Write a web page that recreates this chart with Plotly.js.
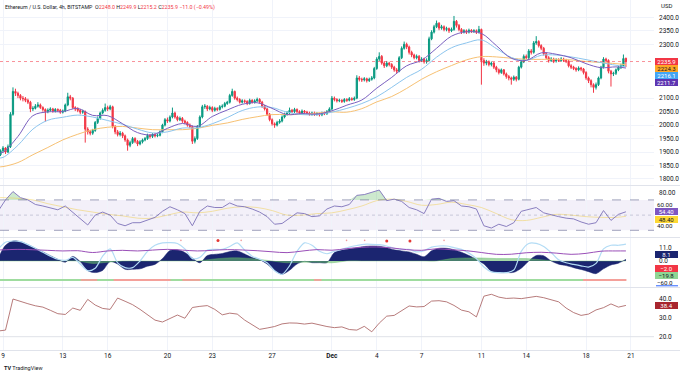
<!DOCTYPE html>
<html>
<head>
<meta charset="utf-8">
<script src="https://cdn.plot.ly/plotly-3.0.1.min.js"></script>
<style>
html,body{margin:0;padding:0;background:#ffffff;overflow:hidden;}
#chart{width:680px;height:371px;}
</style>
</head>
<body>
<div id="chart"></div>
<script>
// ---------- DATA (4h candles, ETH/USD Bitstamp; x in days from Nov 1, 00:00) ----------
const startDay = 8 + 2/3;        // first candle: Nov 8, 16:00
const candleHours = 4;

const open = [
1900,1890,1905,1915,1900,1920, 2040,2125,2118,2110,2100,2098, 2092,2085,2060,2062,2070,2075,
2065,2058,2050,2055,2060,2052, 2058,2055,2048,2052,2075,2105, 2100,2065,2060,2055,2048,2050,
1985,1975,1970,1980,2010,2025, 2045,2055,2065,2060,2068,1995, 1975,1965,1970,1960,1945,1925,
1935,1950,1940,1930,1938,1945, 1950,1962,1958,1965,1960,1962, 1975,2000,2020,2015,2030,2045,
2030,2020,2025,2015,2010,2000, 1995,1940,1950,1995,2030,2068, 2070,2060,2065,2055,2062,2058,
2068,2070,2080,2085,2110,2125, 2100,2095,2085,2090,2088,2080, 2092,2085,2090,2095,2085,2070,
2060,2040,2020,2005,2000,2010, 2015,2030,2040,2045,2055,2050, 2058,2050,2045,2052,2048,2045,
2040,2045,2040,2042,2038,2045, 2042,2050,2060,2100,2095,2090, 2092,2088,2095,2092,2098,2095,
2100,2175,2170,2168,2172,2165, 2170,2175,2210,2245,2255,2230, 2220,2230,2225,2215,2205,2200,
2250,2285,2300,2290,2270,2260, 2250,2255,2240,2245,2235,2240, 2320,2345,2365,2378,2360,2365,
2355,2358,2350,2355,2385,2370, 2355,2345,2350,2345,2352,2348, 2350,2345,2355,2240,2230,2235,
2225,2230,2215,2205,2195,2205, 2190,2180,2175,2170,2178,2170, 2215,2235,2255,2250,2275,2270,
2305,2310,2295,2285,2265,2250, 2240,2245,2238,2242,2240,2245, 2240,2238,2220,2215,2210,2205,
2212,2208,2195,2175,2165,2150, 2140,2150,2175,2215,2245,2240, 2200,2190,2192,2205,2215,2220,
2248.0];
const close = [
1890,1905,1915,1900,1920,2040, 2125,2118,2110,2100,2098,2092, 2085,2060,2062,2070,2075,2065,
2058,2050,2055,2060,2052,2058, 2055,2048,2052,2075,2105,2100, 2065,2060,2055,2048,2050,1985,
1975,1970,1980,2010,2025,2045, 2055,2065,2060,2068,1995,1975, 1965,1970,1960,1945,1925,1935,
1950,1940,1930,1938,1945,1950, 1962,1958,1965,1960,1962,1975, 2000,2020,2015,2030,2045,2030,
2020,2025,2015,2010,2000,1995, 1940,1950,1995,2030,2068,2070, 2060,2065,2055,2062,2058,2068,
2070,2080,2085,2110,2125,2100, 2095,2085,2090,2088,2080,2092, 2085,2090,2095,2085,2070,2060,
2040,2020,2005,2000,2010,2015, 2030,2040,2045,2055,2050,2058, 2050,2045,2052,2048,2045,2040,
2045,2040,2042,2038,2045,2042, 2050,2060,2100,2095,2090,2092, 2088,2095,2092,2098,2095,2100,
2175,2170,2168,2172,2165,2170, 2175,2210,2245,2255,2230,2220, 2230,2225,2215,2205,2200,2250,
2285,2300,2290,2270,2260,2250, 2255,2240,2245,2235,2240,2320, 2345,2365,2378,2360,2365,2355,
2358,2350,2355,2385,2370,2355, 2345,2350,2345,2352,2348,2350, 2345,2355,2240,2230,2235,2225,
2230,2215,2205,2195,2205,2190, 2180,2175,2170,2178,2170,2215, 2235,2255,2250,2275,2270,2305,
2310,2295,2285,2265,2250,2240, 2245,2238,2242,2240,2245,2240, 2238,2220,2215,2210,2205,2212,
2208,2195,2175,2165,2150,2140, 2150,2175,2215,2245,2240,2200, 2190,2192,2205,2215,2220,2246.9,
2235.9];
const high = [
1908,1910,1922,1918,1928,2048, 2140,2135,2124,2115,2108,2104, 2098,2090,2070,2078,2085,2080,
2070,2062,2062,2066,2064,2063, 2062,2060,2058,2080,2120,2112, 2104,2070,2066,2060,2057,2054,
1992,1982,1986,2015,2032,2050, 2062,2080,2072,2075,2072,2000, 1982,1978,1975,1965,1950,1942,
1956,1955,1945,1944,1950,1956, 1968,1966,1970,1970,1968,1980, 2005,2026,2028,2036,2065,2050,
2035,2032,2030,2020,2014,2006, 1998,1958,2000,2036,2075,2078, 2074,2072,2070,2068,2066,2074,
2077,2086,2090,2116,2135,2128, 2106,2100,2096,2095,2092,2098, 2096,2096,2102,2100,2090,2075,
2064,2045,2025,2010,2016,2022, 2036,2046,2052,2065,2060,2064, 2062,2055,2058,2056,2053,2050,
2050,2050,2048,2046,2050,2050, 2056,2066,2108,2106,2100,2098, 2096,2100,2100,2104,2103,2106,
2185,2182,2176,2178,2176,2176, 2182,2216,2252,2270,2260,2236, 2238,2235,2230,2220,2212,2256,
2292,2310,2306,2295,2276,2265, 2262,2260,2252,2250,2248,2328, 2352,2372,2388,2382,2372,2370,
2365,2362,2362,2405,2390,2375, 2360,2356,2355,2358,2356,2356, 2355,2368,2358,2248,2242,2240,
2236,2234,2220,2210,2210,2208, 2195,2186,2180,2184,2182,2220, 2240,2262,2262,2282,2282,2312,
2330,2315,2300,2290,2270,2256, 2252,2250,2248,2248,2252,2250, 2246,2242,2226,2220,2215,2218,
2216,2212,2200,2180,2170,2155, 2158,2180,2220,2252,2250,2244, 2205,2198,2210,2220,2228,2262,
2249.9];
const low = [
1882,1885,1898,1893,1896,1915, 2035,2108,2100,2092,2088,2085, 2078,2048,2052,2058,2065,2060,
2050,2013,2044,2050,2046,2047, 2049,2042,2043,2048,2070,2092, 2060,2052,2048,2040,2042,1935,
1965,1962,1964,1975,2004,2020, 2040,2050,2052,2055,1988,1966, 1958,1958,1952,1938,1905,1918,
1930,1933,1922,1925,1932,1940, 1945,1950,1952,1954,1955,1958, 1970,1995,2008,2010,2025,2024,
2014,2015,2008,2003,1994,1988, 1930,1932,1945,1990,2025,2060, 2052,2055,2048,2050,2052,2054,
2062,2066,2075,2080,2105,2094, 2088,2080,2080,2082,2074,2076, 2080,2080,2086,2080,2064,2054,
2034,2014,1998,1990,1995,2005, 2010,2025,2035,2040,2044,2045, 2044,2040,2040,2042,2040,2035,
2035,2034,2035,2032,2033,2037, 2038,2045,2055,2088,2084,2085, 2082,2083,2086,2088,2090,2090,
2096,2162,2160,2162,2158,2160, 2165,2170,2205,2238,2224,2212, 2215,2218,2208,2198,2192,2196,
2245,2280,2282,2262,2252,2244, 2244,2232,2234,2228,2228,2236, 2315,2340,2360,2352,2354,2348,
2348,2342,2345,2350,2362,2348, 2338,2340,2338,2340,2342,2342, 2338,2340,2150,2220,2222,2218,
2218,2208,2196,2188,2190,2184, 2172,2166,2150,2164,2162,2166, 2210,2230,2244,2245,2262,2265,
2298,2288,2278,2258,2244,2232, 2234,2230,2232,2234,2235,2234, 2230,2214,2208,2204,2198,2200,
2200,2188,2168,2156,2140,2120, 2132,2145,2170,2210,2232,2192, 2143,2182,2186,2200,2208,2215,
2215.2];

// moving averages, one reading per day (first candle, Nov 9 .. Dec 20, last candle)
const maFast = [1897,1899,1958,2035,2049,2050,2062,2036,2035,2005,1972,1964,1988,2006,1995,2032,2056,2077,2083,2062,2039,2043,2041,2053,2074,2093,2137,2177,2220,2241,2285,2330,2346,2340,2295,2248,2240,2268,2263,2250,2228,2213,2216,2211.7];
const maMid  = [1878,1880,1925,1985,2018,2029,2037,2030,2017,2003,1985,1971,1975,1989,1990,2005,2028,2054,2067,2065,2048,2039,2039,2048,2062,2080,2105,2140,2177,2207,2252,2287,2305,2316,2284,2251,2240,2259,2260,2253,2243,2232,2222,2216.1];
const maSlow = [1845,1846,1861,1890,1917,1945,1966,1983,1992,1995,1989,1983,1983,1983,1988,1999,2008,2021,2031,2039,2039,2040,2045,2049,2048,2061,2086,2106,2136,2170,2198,2221,2242,2254,2253,2248,2244,2244,2244,2242,2236,2232,2228,2224.3];

// RSI, one reading per half day
const rsi = [55,70,81,73,70,64,62,59,57,62,54,45,37,50,54,50,39,36,40,40,44,47,55,61,57,52,36,55,62,60,60,66,62,61,58,54,48,38,39,46,53,52,48,49,58,62,61,64,76,77,80,83,69,71,68,60,57,52,71,72,68,69,62,61,58,36,33,38,35,40,55,58,60,53,50,48,46,45,41,38,40,56,43,51,54.4];
// RSI moving average, one reading per day
const rsiMa = [73,73,72,70,65,61,57,54,51,49,46,46,50,54,53,55,59,61,60,56,50,50,52,53,57,62,69,71,68,63,64,67,64,60,52,44,43,47,51,50,48,47,47,48.4];

// oscillator panel, half-day readings
const oscWave = [2,13,16.5,16,13.5,10.5,7.5,4.4,1.4,-1,3.8,-0.5,-8,-9.6,-7.8,-0.5,-2.5,-6.9,-6.9,-6.5,-4.3,-2.8,2,8.6,9.2,7,2.5,-1.5,4.5,5.5,6.2,7.8,8.3,5.8,2.8,1.1,-2.5,-7.8,-11,-7.7,-2.5,-0.3,-1.4,-1.4,-1.4,7,9,10,11,12,12.4,12.2,11,9.2,8.3,7.5,5.5,3.5,8.5,10.5,10.5,9.3,7.2,4.5,1.3,-2.5,-8.5,-9.6,-9.6,-9.4,-6,0,4.5,4.3,0,-2.6,-3.8,-5.5,-7,-8.8,-10.5,-6.5,-3.3,-1.8,1.4];
const oscFast = [9.6,15.5,16.5,16,13.5,10.5,7.2,4,1.4,0.5,3,-2.5,-8,-6,4,10,-1.5,-5.5,-5.5,0,8,13,15,15.2,14.5,10,2,3,9,9.6,9.6,12,15,9,4,1.5,-1.5,-8,-11,-4,8,15,13,8,6,8,9.6,11.5,12.8,13.8,13.8,13.5,12.4,10.5,9.6,9.6,7.5,8.5,11.5,12.4,12.4,11,9.6,6.5,2,-5,-9,-9.6,-9.6,-7.5,8,14.5,14.5,12,7,1,-1.5,-2.8,-4,-5,-2,10,13,13,14];
// oscillator panel, daily readings
const oscSignal = [9.1,9.2,9.6,9.3,8.8,8.3,8.5,7,8.3,8.8,8.3,9,9.6,9,8.3,8.8,9.4,9.1,8.5,7.6,6.9,8.2,9.4,8.9,10.2,11.3,11.6,10.8,9.4,8.8,10.1,9.3,8.5,7,5.5,5.6,6.8,7.2,6.5,5.5,6.3,8.1,8.3,8.3];
const moneyFlow = [0,0,0,0,0,0,0,-2,-1,0,0,0,0,0,0,1.5,2.5,2.5,1.5,0,-1.5,-1,-1,-1.5,0,0,0,0,0,0,0,2,2.5,2.5,2,2,2,1,0,0,0,0,0,0];
const dotBigDays = [23.38,34.67,36.22], dotBigVals = [17,16.5,16.5];
const dotSmallDays = [20.9,24.93,31.98,33.19,38.5], dotSmallVals = [17,17,17,17,17];
const bandLevel = -15.7;
const bandRedSegments = [[14.2,15.3],[16.4,20.2],[21.0,22.2],[29.8,30.3],[47.8,50.7]];

// lower panel line, half-day readings
const lowerLine = [23,23.5,40,38.6,37.5,36.4,35.7,34,32.2,31.8,35.2,34,39.8,36.8,35,34.5,40.5,38.8,37,34.5,31.5,28.8,27.8,29.5,31.5,29.8,35.5,36.1,36.5,34.5,31.6,32.5,32,28.8,26.5,23.9,24.6,25.4,26.8,27.3,27.2,26.7,27.2,26.1,25.4,24.8,25.2,23.8,23.5,25.5,22.6,27.2,30.9,31.3,34,36.3,35.8,36,38.9,39.1,38.5,36.6,34.1,33.2,30.5,41.5,42.5,41,40.3,40.5,40.2,41,41.4,40.7,39.4,38.5,35.2,32.8,31.3,32,34.2,35.4,37.4,35.7,36.6];

const dateTickDays = [9,13,16,20,23,27,31,34,37,41,44,48,51];
const dateTickText = ['9','13','16','20','23','27','<b>Dec</b>','4','7','11','14','18','21'];
const priceTicks = [1800,1850,1900,1950,2000,2050,2100,2300,2350,2400];
const lastPrice = 2235.9;

// ---------- time coordinates ----------
const candleX = close.map((_, i) => startDay + i * candleHours / 24);
const halfDayX = rsi.map((_, k) => startDay + k * 0.5);
const dailyX = [startDay];
for (let d = 9; d <= 50; d++) dailyX.push(d);
dailyX.push(startDay + 42);

const redX = [], redY = [];
bandRedSegments.forEach(s => { redX.push(s[0], s[1], null); redY.push(bandLevel, bandLevel, null); });

const UP = '#089981', DN = '#f23645';
const FONT = 'Roboto, "Liberation Sans", sans-serif';

const traces = [
  {type:'candlestick', x:candleX, open:open, high:high, low:low, close:close,
   xaxis:'x', yaxis:'y', whiskerwidth:0, hoverinfo:'skip',
   increasing:{line:{color:UP,width:1}, fillcolor:UP},
   decreasing:{line:{color:DN,width:1}, fillcolor:DN}},
  {type:'scatter', mode:'lines', x:dailyX, y:maSlow, yaxis:'y', line:{color:'#f7c173', width:1, shape:'spline'}, hoverinfo:'skip'},
  {type:'scatter', mode:'lines', x:dailyX, y:maMid, yaxis:'y', line:{color:'#8cc5ee', width:1, shape:'spline'}, hoverinfo:'skip'},
  {type:'scatter', mode:'lines', x:dailyX, y:maFast, yaxis:'y', line:{color:'#7a5fbf', width:1, shape:'spline'}, hoverinfo:'skip'},

  // RSI panel
  {type:'scatter', mode:'lines', x:halfDayX, y:rsi.map(() => 70), yaxis:'y2', line:{width:0}, hoverinfo:'skip'},
  {type:'scatter', mode:'lines', x:halfDayX, y:rsi.map(v => Math.max(v, 70)), yaxis:'y2', fill:'tonexty',
   fillcolor:'rgba(76,175,80,0.28)', line:{width:0}, hoverinfo:'skip'},
  {type:'scatter', mode:'lines', x:dailyX, y:rsiMa, yaxis:'y2', line:{color:'rgba(240,205,80,0.5)', width:1, shape:'spline'}, hoverinfo:'skip'},
  {type:'scatter', mode:'lines', x:halfDayX, y:rsi, yaxis:'y2', line:{color:'#8a7fc0', width:1}, hoverinfo:'skip'},

  // oscillator panel
  {type:'scatter', mode:'lines', x:halfDayX, y:oscWave, yaxis:'y3', fill:'tozeroy', fillcolor:'#1b2570',
   line:{color:'#1b2570', width:0.5, shape:'spline', smoothing:0.8}, hoverinfo:'skip'},
  {type:'scatter', mode:'lines', x:dailyX, y:moneyFlow, yaxis:'y3', fill:'tozeroy', fillcolor:'rgba(102,187,106,0.6)',
   line:{color:'rgba(102,187,106,0.8)', width:0.5, shape:'spline'}, hoverinfo:'skip'},
  {type:'scatter', mode:'lines', x:halfDayX, y:oscFast, yaxis:'y3', line:{color:'#b3dcf5', width:1.2, shape:'spline', smoothing:0.8}, hoverinfo:'skip'},
  {type:'scatter', mode:'lines', x:dailyX, y:oscSignal, yaxis:'y3', line:{color:'#9a4fb8', width:1, shape:'spline'}, hoverinfo:'skip'},
  {type:'scatter', mode:'markers', x:dotBigDays, y:dotBigVals, yaxis:'y3', marker:{color:'#e53935', size:3}, hoverinfo:'skip'},
  {type:'scatter', mode:'markers', x:dotSmallDays, y:dotSmallVals, yaxis:'y3', marker:{color:'#ef9a9a', size:1.6}, hoverinfo:'skip'},
  {type:'scatter', mode:'lines', x:[startDay, startDay + 42], y:[bandLevel, bandLevel], yaxis:'y3', line:{color:'#9fdc9f', width:1.8}, hoverinfo:'skip'},
  {type:'scatter', mode:'lines', x:redX, y:redY, yaxis:'y3', line:{color:'#f4a09a', width:1.8}, connectgaps:false, hoverinfo:'skip'},

  // lower panel
  {type:'scatter', mode:'lines', x:halfDayX, y:lowerLine, yaxis:'y4', line:{color:'rgba(170,100,100,0.85)', width:1}, hoverinfo:'skip'}
];

// ---------- layout ----------
const H = 371;
const py = p => 1 - p / H;   // pixel row -> paper y
const tickFont = {family:FONT, size:6.5, color:'#131722'};
const yCommon = {side:'right', anchor:'x', zeroline:false, showline:false, ticks:'', ticklabelstandoff:4,
                 tickfont:tickFont, fixedrange:true};

function tag(text, yref, y, bg, fg, shift) {
  return {xref:'paper', x:1, xanchor:'left', xshift:1, yref:yref, y:y, yanchor:'middle', yshift:shift || 0,
          text:text, showarrow:false, bgcolor:bg, borderpad:0, borderwidth:0, width:23, height:6.5, align:'center',
          font:{family:FONT, size:6, color:fg}};
}
function scaleLabel(text, yref, y, shift) {
  return {xref:'paper', x:1, xanchor:'left', xshift:3, yref:yref, y:y, yanchor:'middle', yshift:shift || 0,
          text:text, showarrow:false, borderpad:0, borderwidth:0, font:{family:FONT, size:6.2, color:'#131722'}};
}

const sepLine = p => ({type:'line', xref:'paper', yref:'paper', x0:0, x1:680/654, y0:py(p), y1:py(p),
                       line:{color:'#e0e3eb', width:1}});

const layout = {
  width:680, height:371,
  margin:{l:0, r:26, t:0, b:0},
  paper_bgcolor:'#ffffff', plot_bgcolor:'#ffffff',
  showlegend:false,
  font:{family:FONT},
  xaxis:{type:'linear', range:[8.7993, 52.545], anchor:'y4', domain:[0,1],
         tickvals:dateTickDays, ticktext:dateTickText, ticks:'', tickfont:tickFont,
         showgrid:true, gridcolor:'#f0f3fa', gridwidth:1, zeroline:false, showline:false,
         rangeslider:{visible:false}, fixedrange:true},
  yaxis:Object.assign({}, yCommon, {domain:[py(185), 1], range:[1777.7, 2464.2],
         tickvals:priceTicks, tickformat:'.1f',
         showgrid:true, gridcolor:'#f0f3fa'}),
  yaxis2:Object.assign({}, yCommon, {domain:[py(237), py(186)], range:[21.2, 88.3],
         tickvals:[80], tickformat:'.2f', showgrid:false}),
  yaxis3:Object.assign({}, yCommon, {domain:[py(287), py(238)], range:[-21.5, 19.0],
         tickvals:[11,0], tickformat:'.1f', showgrid:false}),
  yaxis4:Object.assign({}, yCommon, {domain:[py(350), py(288)], range:[12.94, 45.84],
         tickvals:[40,30,20], tickformat:'.1f', showgrid:false}),
  shapes:[
    sepLine(185.5), sepLine(237.5), sepLine(287.5), sepLine(350.5),
    {type:'line', xref:'paper', yref:'y', x0:0, x1:1, y0:lastPrice, y1:lastPrice,
     line:{color:'rgba(242,54,69,0.55)', width:1, dash:'dot'}},
    {type:'rect', xref:'paper', yref:'y2', x0:0, x1:1, y0:30, y1:70, fillcolor:'rgba(126,87,194,0.09)',
     line:{width:0}, layer:'below'},
    {type:'line', xref:'paper', yref:'y2', x0:0, x1:1, y0:70, y1:70, line:{color:'rgba(120,123,160,0.7)', width:1, dash:'dash'}},
    {type:'line', xref:'paper', yref:'y2', x0:0, x1:1, y0:50, y1:50, line:{color:'rgba(120,123,160,0.35)', width:1, dash:'dot'}},
    {type:'line', xref:'paper', yref:'y2', x0:0, x1:1, y0:30, y1:30, line:{color:'rgba(120,123,160,0.7)', width:1, dash:'dash'}},
    {type:'line', xref:'paper', yref:'y4', x0:0, x1:1, y0:20, y1:20, line:{color:'#dfe2e8', width:1}},
    {type:'line', xref:'paper', yref:'paper', x0:656/654, x1:678/654, y0:py(285.8), y1:py(285.8), line:{color:'#2962ff', width:1}}
  ],
  annotations:[
    {xref:'paper', yref:'paper', x:0, xshift:3, y:1, yshift:-1.5, xanchor:'left', yanchor:'top', showarrow:false,
     font:{family:FONT, size:5.3, color:'#131722'},
     text:'Ethereum / U.S. Dollar, 4h, BITSTAMP  O<span style="color:#f23645">2248.0</span> H<span style="color:#f23645">2249.9</span> L<span style="color:#f23645">2215.2</span> C<span style="color:#f23645">2235.9</span> <span style="color:#f23645">−11.0 (−0.49%)</span>'},
    {xref:'paper', yref:'paper', x:1, xshift:5, y:py(5), xanchor:'left', yanchor:'middle', showarrow:false,
     text:'USD', font:{family:FONT, size:6, color:'#131722'}},
    {xref:'paper', yref:'paper', x:0, xshift:2, y:py(367.5), xanchor:'left', yanchor:'middle', showarrow:false,
     text:'<b>TV</b> TradingView', font:{family:FONT, size:5.5, color:'#131722'}},

    tag('2235.9', 'y', lastPrice, '#f23645', '#ffffff', 0),
    tag('2224.3', 'y', 2224.3, '#ffa726', '#131722', -3.9),
    tag('2216.1', 'y', 2216.1, '#42a5f5', '#ffffff', -8.6),
    tag('2211.7', 'y', 2211.7, '#5e35b1', '#ffffff', -14.5),

    scaleLabel('60.00', 'y2', 60, 2.5),
    scaleLabel('40.00', 'y2', 40, -3),
    tag('54.40', 'y2', 54.4, '#7e57c2', '#ffffff', 0),
    tag('48.40', 'y2', 48.4, '#fdd835', '#131722', -3),

    tag('19.1', 'y3', 19.1, '#4a8ff0', '#ffffff', -2.6),
    tag('8.1', 'y3', 8.1, '#1b2570', '#ffffff', -3.3),
    tag('−2.0', 'y3', -2.0, '#f23645', '#ffffff', -5.1),
    tag('−19.8', 'y3', -19.8, '#8fd694', '#131722', 9.5),
    scaleLabel('−60.0', 'y3', -17.6, -0.3),

    tag('38.4', 'y4', 38.4, '#a8262f', '#ffffff', -3.5)
  ]
};

Plotly.newPlot('chart', traces, layout, {staticPlot:true, displayModeBar:false});
</script>
</body>
</html>
